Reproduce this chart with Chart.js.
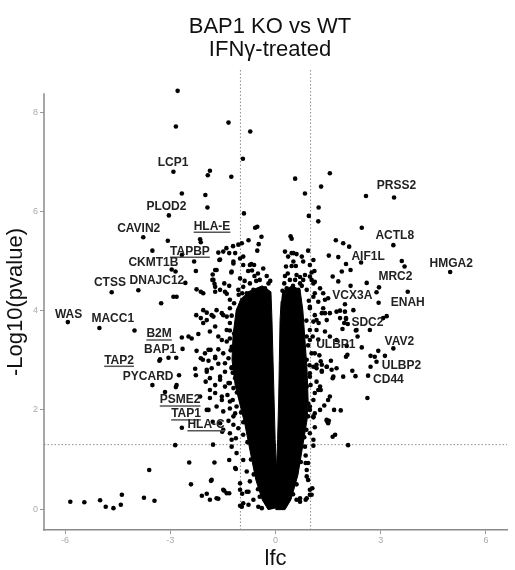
<!DOCTYPE html>
<html>
<head>
<meta charset="utf-8">
<script src="https://cdn.jsdelivr.net/npm/chart.js@4.4.1/dist/chart.umd.min.js"></script>
<style>
  html, body { margin: 0; padding: 0; background: #fff; }
  #wrap { width: 515px; height: 570px; }
</style>
</head>
<body>
<div id="wrap"><canvas id="volcano" width="515" height="570"></canvas></div>
<script>
// axis limits / ticks
const xMin = -6.6, xMax = 6.6;
const yMin = -0.42, yMax = 8.85;
const yAxisTop = 8.38;
const xTicks = [-6, -3, 0, 3, 6];
const yTicks = [0, 2, 4, 6, 8];
const fcCut = [-1, 1];
const pCut = 1.3;

// genes: [lfc, -log10(pvalue)]
const leftGenes = [
  [-2.79,8.43],[-2.84,7.71],[-1.34,7.79],[-0.72,7.61],[-0.93,7.06],
  [-2.91,6.80],[-1.87,6.82],[-1.93,6.73],[-1.26,6.70],[-2.67,6.36],[-2.00,6.33],[-1.94,6.08],
  [-0.90,5.96],[-3.04,5.92],[-0.58,5.67],[-0.52,5.69],[-3.77,5.48],[-3.07,5.41],[-2.15,5.44],[-2.13,5.38],
  [-0.40,5.49],[-0.77,5.42],[-0.48,5.34],[-0.52,5.21],[-0.96,5.36],[-3.51,5.21],
  [-1.21,5.30],[-1.06,5.33],[-1.40,5.26],[-1.49,5.19],[-1.63,5.17],[-1.32,5.16],[-1.15,5.16],[-0.92,5.09],[-1.01,5.05],
  [-2.67,5.12],[-2.32,4.99],[-1.60,5.02],[-1.58,5.03],[-1.20,4.95],[-1.20,4.99],[-0.92,4.92],[-0.69,4.94],[-0.61,4.92],[-0.73,4.92],
  [-2.96,4.83],[-2.85,4.79],[-2.27,4.80],[-1.68,4.82],[-1.72,4.82],[-1.26,4.77],[-1.25,4.79],[-0.78,4.80],[-0.67,4.81],
  [-2.57,4.56],[-1.79,4.73],[-1.80,4.62],[-1.77,4.62],[-1.74,4.54],[-1.46,4.55],[-1.32,4.50],[-1.01,4.65],[-0.92,4.48],
  [-0.73,4.55],[-0.63,4.42],[-0.82,4.35],[-1.06,4.42],[-1.58,4.42],[-1.44,4.38],[-1.72,4.48],
  [-0.35,4.85],[-0.25,4.70],[-0.45,4.62],[-0.20,4.55],[-0.30,4.45],[-0.15,4.60],
  [-0.55,4.60],[-0.50,4.75],[-0.40,4.40],[-0.88,4.60],[-0.95,4.35],[-0.60,4.70],
  [-4.67,4.37],[-3.91,4.41],[-2.91,4.28],[-2.82,4.28],[-2.25,4.43],[-2.13,4.38],[-2.06,4.35],[-1.72,4.38],[-1.39,4.34],[-1.30,4.22],
  [-3.26,4.15],[-2.06,4.01],[-2.26,3.91],[-2.13,3.85],[-2.06,3.75],[-1.96,3.96],[-1.82,3.91],[-1.68,4.01],[-1.53,3.95],
  [-1.39,3.88],[-1.30,4.05],[-1.96,3.81],[-1.77,3.88],[-1.49,3.91],[-1.30,3.75],
  [-1.28,3.20],[-1.30,3.60],[-1.25,3.90],[-1.18,4.15],[-1.05,4.32],[-1.22,2.75],[-1.10,2.35],[-0.98,1.95],
  [-0.92,1.75],[-0.80,1.35],[-0.70,1.00],[-0.62,0.70],[-0.50,0.40],[-0.45,0.25],
  [-5.92,3.77],[-5.02,3.65],[-4.02,3.60],
  [-2.67,3.46],[-2.48,3.48],[-2.39,3.44],[-2.20,3.53],[-1.87,3.58],[-1.72,3.68],[-1.63,3.48],[-1.53,3.41],[-1.39,3.61],
  [-1.30,3.44],[-1.18,3.54],[-1.39,3.38],[-1.25,3.27],
  [-2.65,3.23],[-2.25,3.19],[-2.01,3.14],[-1.85,3.21],[-1.91,3.21],
  [-3.05,3.05],[-2.83,3.05],[-3.31,2.99],[-3.29,3.02],[-2.13,3.04],[-2.07,3.01],[-1.91,2.99],[-1.72,3.07],[-1.72,3.04],
  [-1.63,3.22],[-1.49,3.14],[-1.34,3.04],[-1.18,3.21],[-1.44,2.94],[-1.25,2.84],
  [-2.75,2.70],[-2.29,2.83],[-1.96,2.77],[-1.96,2.81],[-1.82,2.84],[-1.63,2.93],[-1.44,2.77],[-1.25,2.86],[-1.11,2.94],
  [-2.27,2.70],[-1.99,2.57],[-1.87,2.64],[-1.72,2.50],[-1.58,2.61],[-1.58,2.67],[-1.44,2.47],[-1.30,2.54],[-1.34,2.54],
  [-1.15,2.64],[-1.20,2.44],
  [-3.51,2.50],[-3.15,2.36],[-2.84,2.46],[-2.82,2.50],[-2.15,2.27],[-1.87,2.24],[-1.87,2.40],[-1.72,2.34],[-1.53,2.20],
  [-1.53,2.27],[-1.37,2.30],[-1.22,2.20],[-1.30,2.17],[-1.11,2.07],
  [-1.91,2.00],[-1.96,2.00],[-1.68,2.07],[-1.49,1.97],[-1.30,2.03],[-1.15,1.93],
  [-1.79,1.76],[-1.58,1.73],[-1.34,1.78],[-1.20,1.70],[-1.20,1.87],[-1.06,1.63],[-0.92,1.50],[-1.49,1.60],
  [-1.30,1.53],[-1.13,1.43],[-1.25,1.40],[-1.25,1.26],[-1.11,1.13],[-0.92,0.99],[-1.15,0.83],[-0.82,0.76],[-1.01,0.52],[-0.73,0.56],
  [-2.67,1.64],[-1.52,1.56],[-2.86,1.29],[-1.78,1.30],[-2.46,0.94],[-1.74,0.94],[-1.82,0.59],[-3.60,0.79],
  [-2.41,0.50],[-1.84,0.57],[-1.32,0.99],[-1.13,0.81],
  [-5.85,0.15],[-5.45,0.14],[-5.00,0.18],[-4.84,0.05],[-4.62,0.02],[-4.41,0.09],[-4.38,0.29],[-3.75,0.23],[-3.45,0.17],
  [-2.10,0.27],[-1.96,0.31],[-1.87,0.19],[-1.68,0.22],[-1.63,0.21],[-1.46,0.37],[-1.49,0.39],[-1.39,0.32],[-1.32,0.32],
  [-1.01,0.07],[-0.95,0.31],[-0.77,0.35],[-0.92,0.12],[-1.01,0.39],[-0.82,0.35],[-0.96,0.05],[-0.77,0.09],
  [-0.49,0.05],[-0.39,0.02],[-0.63,0.19]
];

const rightGenes = [
  [0.56,6.66],[1.55,6.77],[1.30,6.50],[0.84,6.36],[2.58,6.31],[3.38,6.28],[1.23,6.08],[0.95,5.91],[1.22,5.80],
  [2.46,5.67],[3.36,5.32],[1.72,5.42],[1.93,5.36],[2.10,5.29],[0.43,5.50],[0.46,5.45],
  [1.52,5.11],[1.79,5.08],[2.01,4.94],[1.89,4.79],[2.14,4.82],[2.44,4.97],[3.60,5.00],[3.68,4.89],[4.98,4.78],
  [1.63,4.69],[1.79,4.59],[2.14,4.50],[2.60,4.56],[2.95,4.47],[2.88,4.37],[3.77,4.38],[1.27,4.45],[1.36,4.35],
  [2.94,4.16],[1.50,4.25],[1.41,4.22],[1.98,4.13],[1.74,3.98],[1.98,3.98],[2.22,4.01],[1.84,3.85],[2.01,3.85],
  [3.17,3.89],[3.07,3.85],[1.91,3.63],[2.31,3.61],[2.69,3.61],[2.01,3.83],[2.06,3.73],[2.29,3.60],[2.34,3.48],
  [1.55,3.48],[1.74,3.41],[2.46,3.26],[2.03,3.29],[2.05,3.11],[2.01,3.07],[3.36,3.24],[2.93,3.19],[2.83,3.07],
  [2.71,3.09],[3.12,3.09],[2.88,2.97],[2.71,2.87],[2.64,2.69],[2.19,2.79],[2.28,2.68],[1.93,2.67],[1.63,2.64],
  [1.58,2.99],[1.32,2.79],[1.46,2.87],[1.60,2.81],[1.74,2.84],[2.62,2.24],[1.55,2.27],[1.39,2.09],[1.67,2.00],
  [1.86,1.99],[1.46,1.78],[1.52,1.78],[1.63,1.46],[2.07,1.29],[1.08,1.28],[1.12,1.65],[1.08,1.85],[1.27,2.47],
  [1.29,2.40],[1.17,2.57],[0.89,0.66],[1.05,0.42],[0.98,0.29],[0.86,0.19],[0.70,0.15],[0.86,1.08],[0.86,0.93],
  [1.12,3.14],[1.25,3.10],[1.29,2.98],[0.98,3.41],[1.06,3.48],[1.22,3.42],[1.23,3.75],[1.46,3.81],[1.32,3.95],
  [1.12,3.91],[1.08,3.78],[1.55,3.95],[1.84,4.00],[1.96,3.75],[1.32,2.91],[1.32,2.77],[1.17,2.84],
  [0.51,5.16],[0.60,5.14],[0.75,5.09],[0.93,5.21],[1.08,5.02],[0.46,4.90],[0.58,4.90],[0.79,4.99],[0.98,4.92],
  [1.11,4.80],[1.03,4.77],[0.27,4.70],[0.41,4.62],[0.56,4.62],[0.70,4.68],[0.84,4.72],[1.03,4.62],[1.12,4.58],
  [0.32,4.45],[0.51,4.37],[0.65,4.42],[0.60,4.72],[0.70,4.55],[0.79,4.62],[0.98,4.69],[1.08,4.55],[0.36,4.38],
  [0.89,4.42],[1.12,4.35],[0.46,5.16],[0.51,4.99],[0.27,5.19],[0.36,5.09],[0.30,4.89],
  [0.25,4.55],[0.35,4.75],[0.50,4.50],[0.75,4.50],[0.20,4.40],
  [0.95,4.20],[0.88,3.80],[0.93,3.30],[0.97,2.90],[1.00,2.50],[0.98,2.00],[0.88,1.60],[0.82,1.45],[0.72,0.95],
  [0.60,0.50],[0.50,0.30],
  [0.98,4.08],[1.41,3.95],[1.17,3.81],[0.98,3.61],[0.89,3.48],[1.03,3.14],[1.17,2.91],[0.98,2.74],[1.46,2.87],
  [1.65,2.67],[0.89,2.47],[1.12,2.34],[0.93,2.13],[1.27,2.00],[1.50,2.20],
  [1.08,4.28],[1.22,4.18],[0.98,4.05],[1.36,4.05],[1.17,3.61],[1.41,3.58],[0.89,3.01],[1.08,2.87],[0.98,2.67],
  [1.22,2.40],[1.08,2.20],[0.98,2.07],[1.12,1.93],[0.93,1.87],[0.98,1.53],[1.08,1.40],[0.84,1.26],[0.93,0.93],[0.89,0.79],
  [0.93,0.59],[0.98,0.39],[0.89,0.22],[0.70,0.22],[0.60,0.19],[1.03,0.29],[1.46,1.80],[1.50,1.73],[1.70,1.50],[1.08,1.87]
];

// solid middle of the volcano, outline
const coreLeft = [
  [-0.78,4.38],[-0.38,4.50],[-0.13,4.38],[-0.10,3.80],[-0.07,2.99],[-0.04,2.20],[-0.01,1.40],[0.03,0.79],[0.04,0.03],
  [-0.21,-0.01],[-0.38,0.19],[-0.56,0.59],[-0.73,1.19],[-0.87,1.70],[-1.01,2.10],[-1.15,2.50],[-1.24,3.01],
  [-1.21,3.51],[-1.12,4.01],[-0.98,4.25]
];
const coreRight = [
  [0.19,4.38],[0.47,4.50],[0.70,4.42],[0.78,4.01],[0.84,3.41],[0.90,2.80],[0.93,2.20],[0.90,1.80],[0.78,1.29],
  [0.64,0.69],[0.44,0.19],[0.27,-0.01],[0.01,-0.01],[0.03,0.79],[0.06,1.40],[0.09,2.20],[0.11,2.99],[0.13,3.80],[0.16,4.19]
];

// labelled genes
const labelNames = ['LCP1','PLOD2','CAVIN2','HLA-E','TAPBP','CKMT1B','CTSS','DNAJC12','WAS','MACC1','B2M','BAP1',
  'TAP2','PYCARD','PSME2','TAP1','HLA-C','PRSS2','ACTL8','AIF1L','HMGA2','MRC2','VCX3A','ENAH','SDC2','ULBP1',
  'VAV2','ULBP2','CD44'];
const labelX = [-2.92,-3.11,-3.90,-1.81,-2.44,-3.48,-4.72,-3.38,-5.90,-4.64,-3.32,-3.29,
  -4.46,-3.63,-2.72,-2.55,-1.98,3.45,3.40,2.64,5.01,3.42,2.19,3.77,2.62,1.72,
  3.53,3.59,3.22];
const labelY = [7.00,6.11,5.67,5.72,5.22,4.99,4.58,4.62,3.95,3.87,3.55,3.23,
  3.02,2.69,2.22,1.94,1.72,6.54,5.54,5.12,4.98,4.71,4.32,4.18,3.79,3.34,
  3.39,2.91,2.64];
const underlined = ['HLA-E','TAPBP','B2M','TAP2','PSME2','TAP1','HLA-C'];

const FONT = '"Liberation Sans", Arial, Helvetica, sans-serif';
const toXY = arr => arr.map(p => ({x: p[0], y: p[1]}));

const cutLine = pts => ({
  data: pts, showLine: true, pointRadius: 0, borderColor: '#8c8c8c',
  borderWidth: 1, borderDash: [1.5, 2], fill: false
});
const core = pts => ({
  data: toXY(pts), showLine: true, pointRadius: 0, borderColor: '#000',
  borderWidth: 1, backgroundColor: '#000', fill: 'shape'
});

const textLayer = {
  id: 'textLayer',
  afterDraw(chart) {
    const {ctx, scales: {x, y}} = chart;
    ctx.save();
    // y axis line (stops short of the panel top, like the original)
    ctx.strokeStyle = '#8a8a8a';
    ctx.lineWidth = 1.5;
    ctx.beginPath();
    ctx.moveTo(x.left, y.getPixelForValue(yAxisTop));
    ctx.lineTo(x.left, y.bottom + 0.75);
    ctx.stroke();

    // gene labels
    ctx.fillStyle = '#222';
    ctx.font = 'bold 12px ' + FONT;
    ctx.textAlign = 'center';
    ctx.textBaseline = 'alphabetic';
    labelNames.forEach((name, i) => {
      const px = x.getPixelForValue(labelX[i]);
      const py = y.getPixelForValue(labelY[i]) + 4.5;
      ctx.fillText(name, px, py);
      if (underlined.includes(name)) {
        const w = ctx.measureText(name).width;
        ctx.strokeStyle = '#555';
        ctx.lineWidth = 1.5;
        ctx.beginPath();
        ctx.moveTo(px - w / 2, py + 2.5);
        ctx.lineTo(px + w / 2, py + 2.5);
        ctx.stroke();
      }
    });

    // titles
    ctx.fillStyle = '#111';
    ctx.font = '22px ' + FONT;
    ctx.fillText('BAP1 KO vs WT', 270, 33);
    ctx.fillText('IFNγ-treated', 270, 56);
    ctx.fillText('lfc', x.getPixelForValue(0), 565);
    ctx.translate(16, (y.top + y.bottom) / 2 + 2);
    ctx.rotate(-Math.PI / 2);
    ctx.textBaseline = 'middle';
    ctx.fillText('-Log10(pvalue)', 0, 0);
    ctx.restore();
  }
};

new Chart(document.getElementById('volcano'), {
  type: 'scatter',
  data: {
    datasets: [
      { label: 'genes', data: toXY(leftGenes.concat(rightGenes)), pointRadius: 2.3, pointBorderWidth: 0,
        backgroundColor: '#000', borderColor: '#000' },
      core(coreLeft),
      core(coreRight),
      cutLine([{x: fcCut[0], y: yMin}, {x: fcCut[0], y: yMax}]),
      cutLine([{x: fcCut[1], y: yMin}, {x: fcCut[1], y: yMax}]),
      cutLine([{x: xMin, y: pCut}, {x: xMax, y: pCut}])
    ]
  },
  options: {
    responsive: false,
    animation: false,
    layout: { padding: { top: 70, right: 8, left: 0, bottom: 0 } },
    plugins: { legend: { display: false }, tooltip: { enabled: false }, title: { display: false } },
    scales: {
      x: {
        type: 'linear', min: xMin, max: xMax,
        afterBuildTicks: s => { s.ticks = xTicks.map(v => ({value: v})); },
        afterFit: s => { s.height = 40; },
        grid: { drawOnChartArea: false, drawTicks: true, tickLength: 4, tickColor: '#999', tickWidth: 1 },
        border: { display: true, color: '#8a8a8a', width: 1.5 },
        ticks: { color: '#aaa', font: { size: 9, family: FONT }, padding: 1, maxRotation: 0 }
      },
      y: {
        type: 'linear', min: yMin, max: yMax,
        afterBuildTicks: s => { s.ticks = yTicks.map(v => ({value: v})); },
        afterFit: s => { s.width = 44; },
        grid: { drawOnChartArea: false, drawTicks: true, tickLength: 4, tickColor: '#999', tickWidth: 1 },
        border: { display: false },
        ticks: { color: '#aaa', font: { size: 9, family: FONT }, padding: 2 }
      }
    }
  },
  plugins: [textLayer]
});
</script>
</body>
</html>
